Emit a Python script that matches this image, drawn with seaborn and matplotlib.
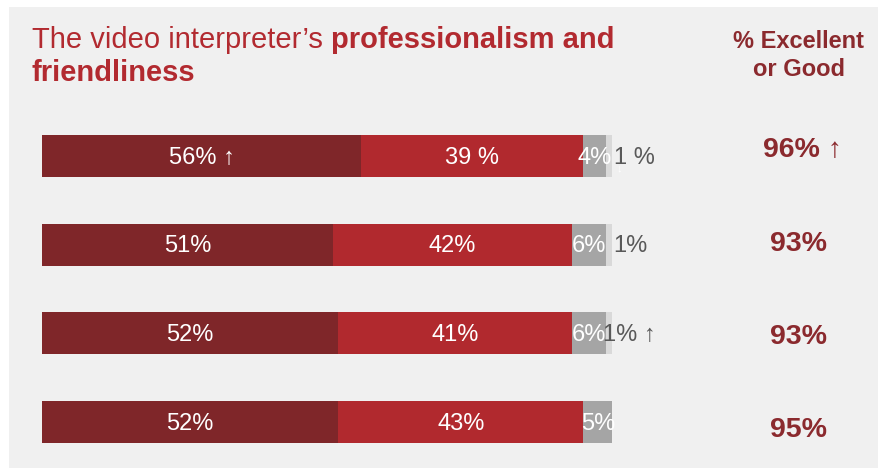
import matplotlib
matplotlib.use("Agg")
import matplotlib.pyplot as plt
from matplotlib.patches import Rectangle
import pandas as pd
import seaborn as sns

# Survey rows (top to bottom) and rating shares in percent
rows = ["Row 1", "Row 2", "Row 3", "Row 4"]
excellent = [56, 51, 52, 52]
good = [39, 42, 41, 43]
fair = [4, 6, 6, 5]
poor = [1, 1, 1, 0]
excellent_or_good = [96, 93, 93, 95]

# Label texts as printed on the chart
excellent_labels = ["56% \u2191", "51%", "52%", "52%"]
good_labels = ["39 %", "42%", "41%", "43%"]
fair_labels = ["4%", "6%", "6%", "5%"]
poor_labels = ["1 %", "1%", "1% \u2191", ""]
total_labels = ["96% \u2191", "93%", "93%", "95%"]

segments = [excellent, good, fair, poor]
seg_colors = ["#7f2629", "#b1292e", "#a5a5a5", "#d9d9d9"]

sns.set_theme(style="white")
plt.rcParams["font.family"] = ["Liberation Sans", "DejaVu Sans"]

W, H = 879, 468
fig = plt.figure(figsize=(W / 100, H / 100), dpi=100)
# grey panel fills the figure; thin white margins on the top and left
fig.patch.set_facecolor("#f0f0f0")
fig.patches.append(Rectangle((0, 0), 9 / W, 1, transform=fig.transFigure,
                             facecolor="white", edgecolor="none", zorder=-10))
fig.patches.append(Rectangle((0, 1 - 7 / H), 1, 7 / H, transform=fig.transFigure,
                             facecolor="white", edgecolor="none", zorder=-10))

ax = fig.add_axes([0, 0, 1, 1])
ax.set_facecolor("none")

# cumulative totals, drawn from the longest so shorter ones sit on top
cum = []
running = [0] * len(rows)
for seg in segments:
    running = [r + s for r, s in zip(running, seg)]
    cum.append(list(running))

for k in reversed(range(len(segments))):
    df = pd.DataFrame({"row": rows, "value": cum[k]})
    sns.barplot(data=df, x="value", y="row", orient="h", color=seg_colors[k],
                saturation=1, width=0.474, linewidth=0, ax=ax)

px = 5.7  # pixels per percent
ax.set_xlim(-42 / px, (W - 42) / px)
step = 88.67
ax.set_ylim((H - 156) / step, -156 / step)
ax.axis("off")

# labels inside the segments
for i in range(len(rows)):
    left = 0
    for k, (seg, labels) in enumerate(zip(segments[:3],
                                          [excellent_labels, good_labels, fair_labels])):
        ax.text(left + seg[i] / 2, i + 0.02, labels[i], ha="center", va="center",
                color="white", fontsize=17)
        left += seg[i]
    if poor_labels[i]:
        ax.text(100.3 if i < 2 else 98.5, i + 0.02, poor_labels[i], ha="left",
                va="center", color="#595959", fontsize=17)

# small white marker on the first row's last segment
ax.text(101.3, 0.14, "\u2193", ha="center", va="center", color="white",
        fontsize=8)

# right-hand column
x_total = (799 - 42) / px
total_dy = [-0.068, -0.008, 0.042, 0.09]
for i, lab in enumerate(total_labels):
    if i == 0:
        ax.text((763 - 42) / px, i + total_dy[i], lab, ha="left", va="center",
                color="#8b2a2e", fontsize=20.5, fontweight="bold")
    else:
        ax.text(x_total, i + total_dy[i], lab, ha="center", va="center",
                color="#8b2a2e", fontsize=20.5, fontweight="bold")

fig.text(799 / W, 1 - 42 / H, "% Excellent", ha="center", va="center",
         color="#8b2a2e", fontsize=17, fontweight="bold")
fig.text(799 / W, 1 - 69 / H, "or Good", ha="center", va="center",
         color="#8b2a2e", fontsize=17, fontweight="bold")

# title
t1 = fig.text(32 / W, 1 - 40 / H, "The video interpreter\u2019s ", ha="left",
              va="center", color="#b22a30", fontsize=21)
fig.canvas.draw()
bb = t1.get_window_extent()
fig.text(bb.x1 / W, 1 - 40 / H, "professionalism and", ha="left", va="center",
         color="#b22a30", fontsize=21, fontweight="bold")
fig.text(32 / W, 1 - 73 / H, "friendliness", ha="left", va="center",
         color="#b22a30", fontsize=21, fontweight="bold")

fig.savefig("out.png", dpi=100, facecolor=fig.get_facecolor())
